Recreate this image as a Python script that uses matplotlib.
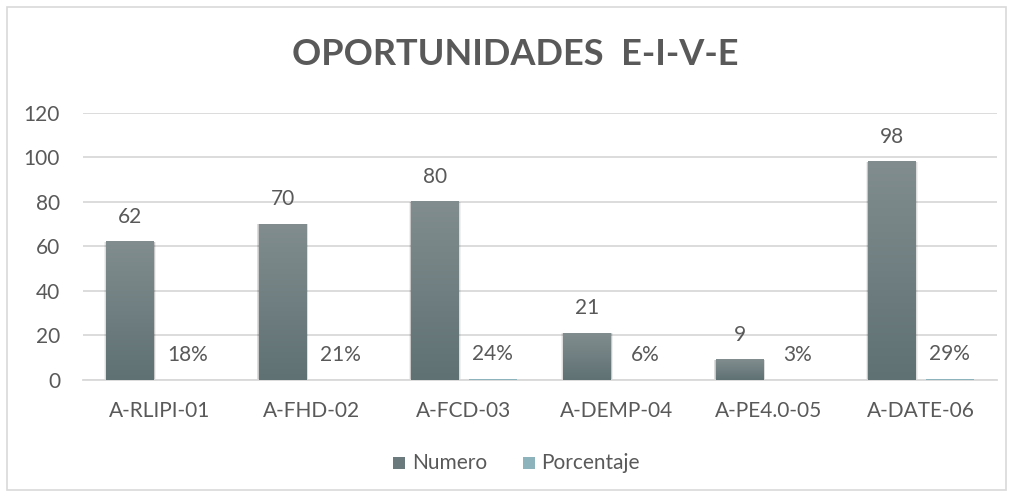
import matplotlib.pyplot as plt
import numpy as np
from matplotlib.colors import LinearSegmentedColormap
from matplotlib.patches import Rectangle

categorias = ['A-RLIPI-01', 'A-FHD-02', 'A-FCD-03', 'A-DEMP-04', 'A-PE4.0-05', 'A-DATE-06']
numero = [62, 70, 80, 21, 9, 98]
porcentaje = [0.18, 0.21, 0.24, 0.06, 0.03, 0.29]

gris = '#595959'
plt.rcParams['font.family'] = ['Lato', 'DejaVu Sans']
fs = 15

W, H = 1013, 497
fig = plt.figure(figsize=(W / 100, H / 100), dpi=100)
fig.patch.set_facecolor('white')

# marco del grafico
fig.add_artist(Rectangle((7 / W, 7 / H), 999 / W, 483 / H, transform=fig.transFigure,
                         fill=False, edgecolor='#d9d9d9', lw=1.2))

ax = fig.add_axes([83 / W, 117 / H, 914 / W, 267.3 / H])
x = np.arange(len(categorias))
ancho = 0.315
desp = 0.19

b1 = ax.bar(x - desp, numero, ancho, color='none', zorder=3)
b2 = ax.bar(x + desp, porcentaje, ancho, color='#8db3bd', zorder=3)

cmap = LinearSegmentedColormap.from_list('barra', ['#5f7173', '#818d8f'])
grad = np.linspace(0, 1, 256).reshape(-1, 1)
for r in b1:
    x0, w, h = r.get_x(), r.get_width(), r.get_height()
    for k, a in [(0.012, 0.06), (0.007, 0.08), (0.003, 0.10)]:
        ax.add_patch(Rectangle((x0 - k, 0), w + 2 * k, h + k * 2.5, color='#000000',
                               alpha=a, lw=0, zorder=2))
    ax.imshow(grad, extent=[x0, x0 + w, 0, h], origin='lower', aspect='auto',
              cmap=cmap, zorder=3)

for r, v in zip(b1, numero):
    ax.annotate(str(v), (r.get_x() + r.get_width() / 2, v), xytext=(0, 18),
                textcoords='offset points', ha='center', va='center', fontsize=fs, color=gris)
for r, v in zip(b2, porcentaje):
    ax.annotate(f'{v:.0%}', (r.get_x() + r.get_width() / 2, r.get_height()), xytext=(0, 18),
                textcoords='offset points', ha='center', va='center', fontsize=fs, color=gris)

ax.set_xlim(-0.5, len(categorias) - 0.5)
ax.set_ylim(0, 120)
ax.set_yticks(range(0, 121, 20))
ax.set_xticks(x)
ax.set_xticklabels(categorias)
ax.tick_params(axis='y', length=0, pad=16.5, labelsize=fs, labelcolor=gris)
ax.tick_params(axis='x', length=0, pad=15, labelsize=fs, labelcolor=gris)
ax.grid(axis='y', color='#d9d9d9', lw=1.3, zorder=0)
for s in ['top', 'right', 'left']:
    ax.spines[s].set_visible(False)
ax.spines['bottom'].set_color('#d9d9d9')
ax.spines['bottom'].set_linewidth(1.3)

fig.text(515 / W, 1 - 54.5 / H, 'OPORTUNIDADES  E-I-V-E', ha='center', va='center',
         fontsize=26, fontweight='bold', color=gris)

# leyenda
fig.add_artist(Rectangle((393 / W, 1 - 469 / H), 12 / W, 12 / H, transform=fig.transFigure,
                         color='#6b7b7d', lw=0))
fig.text(412 / W, 1 - 463 / H, 'Numero', ha='left', va='center', fontsize=fs, color=gris)
fig.add_artist(Rectangle((523 / W, 1 - 469 / H), 12 / W, 12 / H, transform=fig.transFigure,
                         color='#8db3bd', lw=0))
fig.text(541 / W, 1 - 463 / H, 'Porcentaje', ha='left', va='center', fontsize=fs, color=gris)

fig.savefig('out.png', dpi=100)
